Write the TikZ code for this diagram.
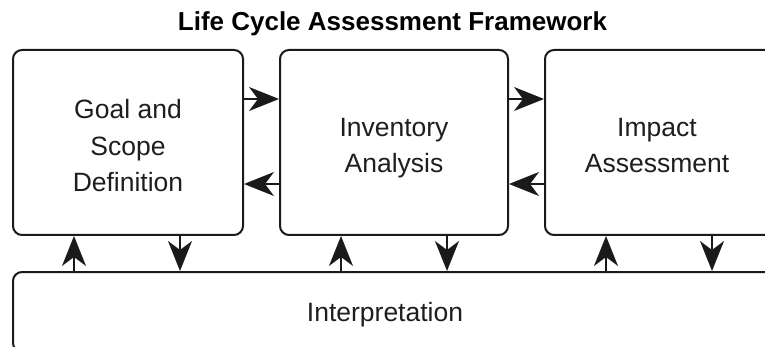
\documentclass[tikz,border=0pt]{standalone}
\usepackage{fontspec}
\setmainfont{Liberation Sans}
\usetikzlibrary{arrows.meta}
\definecolor{ink}{HTML}{1A1A1A}
\definecolor{txt}{HTML}{1E1E1E}
\tikzset{
  stage/.style={draw=ink, line width=2pt, rounded corners=9pt, fill=white,
    minimum height=185pt, inner sep=0pt},
  % caption={horizontal offset}{text}
  caption/.style 2 args={label={[font=\fontsize{26.5}{36.5}\selectfont, align=center,
    text=txt, text depth=0pt, xshift=#1, yshift=-3pt]center:#2}},
  flow/.style={draw=ink, line width=2pt,
    -{Stealth[length=30pt, width=24pt, inset=9pt]}},
  heading/.style={font=\fontsize{26}{30}\selectfont\bfseries, text=black}
}
\begin{document}
\begin{tikzpicture}[x=1pt, y=-1pt]
  \useasboundingbox (0,0) rectangle (765,347);
  \clip (0,0) rectangle (765,347);

  % title
  \node[heading, anchor=base] (title) at (392.5,31) {Life Cycle Assessment Framework};

  % the three phase boxes
  \node[stage, minimum width=230pt, caption={0pt}{Goal and\\Scope\\Definition}] (goal) at (128,142.5) {};
  \node[stage, minimum width=228pt, caption={0pt}{Inventory\\Analysis}] (inv) at (394,142.5) {};
  \node[stage, minimum width=230pt, caption={-3pt}{Impact\\Assessment}] (imp) at (660,142.5) {};

  % interpretation band along the bottom
  \node[stage, minimum width=762pt, minimum height=80pt,
        label={[font=\fontsize{26.5}{30}\selectfont, text=txt, xshift=-9pt, yshift=-3pt]center:Interpretation}]
        (interp) at (394,312) {};

  % forward and backward links between phases
  \draw[flow] ([yshift=-50pt]goal.north east) -- ([yshift=-50pt]inv.north west);
  \draw[flow] ([yshift=-135pt]inv.north west) -- ([yshift=-135pt]goal.north east);
  \draw[flow] ([yshift=-50pt]inv.north east) -- ([yshift=-50pt]imp.north west);
  \draw[flow] ([yshift=-135pt]imp.north west) -- ([yshift=-135pt]inv.north east);

  % links to and from interpretation
  \foreach \b in {goal, inv, imp} {
    \path ([xshift=62pt]\b.south west) coordinate (\b-up)
          ([xshift=168pt]\b.south west) coordinate (\b-down);
    \draw[flow] (\b-up |- interp.north) -- (\b-up);
    \draw[flow] (\b-down) -- (\b-down |- interp.north);
  }
\end{tikzpicture}
\end{document}
